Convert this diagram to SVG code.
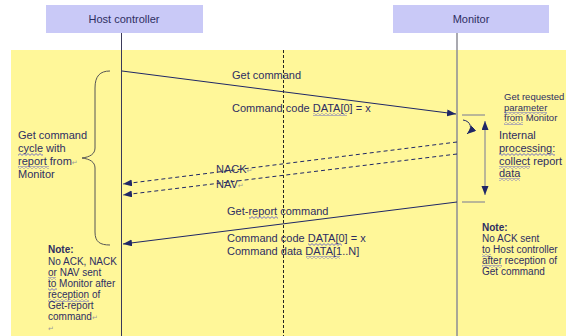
<svg xmlns="http://www.w3.org/2000/svg" width="566" height="336" viewBox="0 0 566 336">
<style>
  text { font-family: "Liberation Sans", Arial, sans-serif; fill: #2e2e62; }
  .hdr { font-size: 11px; }
  .lbl { font-size: 11px; }
  .sm { font-size: 10px; }
  .b { font-weight: bold; }
  .ret { font-family: "DejaVu Sans", sans-serif; font-size: 7px; fill: #9a9a9a; }
  .box { fill: #c9c9f7; }
  .msg { stroke: #1f2766; stroke-width: 1; fill: none; }
  .dash { stroke: #1f2766; stroke-width: 1; fill: none; stroke-dasharray: 4 3; }
  .grey { stroke: #8c8c96; stroke-width: 1.2; fill: none; }
  .sq { fill: url(#squig); }
</style>
<defs>
  <marker id="ah" markerUnits="userSpaceOnUse" markerWidth="10" markerHeight="8" refX="9" refY="3.5" orient="auto">
    <path d="M0,0 L9,3.5 L0,7 z" fill="#1f2766"/>
  </marker>
  <pattern id="squig" patternUnits="userSpaceOnUse" width="4" height="3">
    <polyline points="0,0.6 2,2.4 4,0.6" fill="none" stroke="#3b3bd0" stroke-width="0.7"/>
  </pattern>
</defs>

<g id="frame">
  <rect x="0" y="0" width="566" height="336" fill="#ffffff"/>
  <rect x="11" y="50" width="555" height="286" fill="#fff799"/>
  <line x1="283.5" y1="50" x2="283.5" y2="336" stroke="#222" stroke-width="1" stroke-dasharray="3 2"/>
</g>

<g id="host">
  <rect class="box" x="46" y="5" width="157" height="28"/>
  <text class="hdr" x="124" y="23" text-anchor="middle">Host controller</text>
  <line x1="121.5" y1="33" x2="121.5" y2="336" stroke="#3a3a5a" stroke-width="1"/>
</g>

<g id="monitor">
  <rect class="box" x="393" y="5" width="156" height="28"/>
  <text class="hdr" x="471" y="23" text-anchor="middle">Monitor</text>
  <line x1="457" y1="33" x2="457" y2="336" stroke="#8c8c96" stroke-width="1.5"/>
</g>

<g id="connectors">
  <line class="msg" x1="122" y1="71" x2="456" y2="114" marker-end="url(#ah)"/>
  <line class="dash" x1="457" y1="142" x2="123" y2="184" marker-end="url(#ah)"/>
  <line class="dash" x1="457" y1="154" x2="123" y2="195" marker-end="url(#ah)"/>
  <line class="msg" x1="457" y1="202" x2="123" y2="244" marker-end="url(#ah)"/>
  <line class="grey" x1="462" y1="115" x2="485" y2="115"/>
  <line class="grey" x1="462" y1="202" x2="485" y2="202"/>
  <line class="grey" x1="485" y1="158" x2="485" y2="121" marker-end="url(#ah)"/>
  <line class="grey" x1="485" y1="158" x2="485" y2="195" marker-end="url(#ah)"/>
  <path class="msg" d="M463,120 C471,121 473,129 467,134" marker-end="url(#ah)"/>
  <path d="M110,71 C100,71 95,76 95,88 L95,148 C95,154 90,157 82,158 C90,159 95,162 95,168 L95,232 C95,242 100,245 110,245" fill="none" stroke="#555" stroke-width="1"/>
</g>

<g id="labels">
  <text class="lbl" x="232" y="79">Get command</text>
  <text class="lbl" x="232" y="112">Command code DATA[0] = x</text>
  <rect class="sq" x="313" y="113" width="34" height="3"/>

  <text class="lbl" x="216" y="173">NACK<tspan class="ret">↵</tspan></text>
  <text class="lbl" x="216" y="188">NAV<tspan class="ret">↵</tspan></text>

  <text class="lbl" x="227" y="215">Get-report command</text>
  <rect class="sq" x="249" y="216" width="29" height="3"/>
  <text class="lbl" x="227" y="242">Command code DATA[0] = x</text>
  <rect class="sq" x="308" y="243" width="34" height="3"/>
  <text class="lbl" x="227" y="255">Command data DATA[1..N]</text>
  <rect class="sq" x="306" y="256" width="34" height="3"/>

  <text class="lbl" x="18" y="139">Get command</text>
  <text class="lbl" x="18" y="152">cycle with</text>
  <rect class="sq" x="18" y="153" width="25" height="3"/>
  <text class="lbl" x="18" y="165">report from<tspan class="ret">↵</tspan></text>
  <rect class="sq" x="18" y="166" width="31" height="3"/>
  <text class="lbl" x="18" y="178">Monitor</text>

  <text class="sm" x="504" y="100" style="font-size:9.5px">Get requested</text>
  <text class="sm" x="504" y="111" style="font-size:9.5px">parameter</text>
  <rect class="sq" x="504" y="112" width="43" height="3"/>
  <text class="sm" x="504" y="121" style="font-size:9.5px">from Monitor</text>
  <rect class="sq" x="504" y="122" width="19" height="3"/>

  <text class="lbl" x="499" y="139">Internal</text>
  <text class="lbl" x="499" y="152">processing:</text>
  <rect class="sq" x="499" y="153" width="56" height="3"/>
  <text class="lbl" x="499" y="165">collect report</text>
  <rect class="sq" x="499" y="166" width="31" height="3"/>
  <text class="lbl" x="499" y="177">data</text>
  <rect class="sq" x="499" y="178" width="21" height="3"/>

  <text class="sm b" x="48" y="253">Note:</text>
  <text class="sm" x="48" y="265">No ACK, NACK</text>
  <text class="sm" x="48" y="276">or NAV sent</text>
  <rect class="sq" x="48" y="277" width="8" height="3"/>
  <text class="sm" x="48" y="287">to Monitor after</text>
  <rect class="sq" x="48" y="288" width="9" height="3"/>
  <text class="sm" x="48" y="298">reception of</text>
  <rect class="sq" x="48" y="299" width="41" height="3"/>
  <text class="sm" x="48" y="309">Get-report</text>
  <text class="sm" x="48" y="320">command<tspan class="ret">↵</tspan></text>
  <text class="ret" x="48" y="331">↵</text>

  <text class="sm b" x="482" y="231">Note:</text>
  <text class="sm" x="482" y="242">No ACK sent</text>
  <text class="sm" x="482" y="253">to Host controller</text>
  <rect class="sq" x="482" y="254" width="9" height="3"/>
  <text class="sm" x="482" y="264">after reception of</text>
  <rect class="sq" x="482" y="265" width="20" height="3"/>
  <text class="sm" x="482" y="275">Get command</text>
</g>
</svg>
